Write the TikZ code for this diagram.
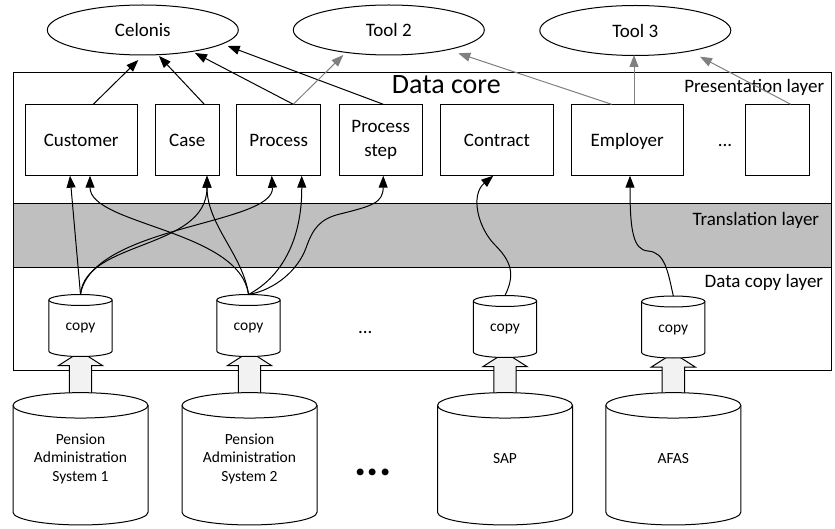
\documentclass[tikz,border=0pt]{standalone}
\usepackage{fontspec}
\setmainfont{Carlito}
\usetikzlibrary{shapes.geometric,arrows.meta,calc}
\definecolor{bandgray}{RGB}{191,191,191}
\definecolor{arrgray}{RGB}{128,128,128}
\definecolor{blockfill}{RGB}{242,242,242}
\pgfdeclarelayer{back}
\pgfdeclarelayer{mid}
\pgfsetlayers{back,mid,main}
\newcommand\fmain{\fontsize{19}{23.5}\selectfont}
\newcommand\fsmall{\fontsize{15.5}{18.8}\selectfont}
\newcommand\fbig{\fontsize{28}{32}\selectfont}
% cylinder outline drawn around a named node: #1 node, #2 x radius, #3 y radius
\newcommand\drawcyl[3]{%
  \draw[cylline] ($(#1.north west)+(0,#3)$) -- ($(#1.south west)+(0,-#3)$)
    arc[start angle=180,end angle=360,x radius=#2pt,y radius=#3pt]
    -- ($(#1.north east)+(0,#3)$)
    arc[start angle=0,end angle=180,x radius=#2pt,y radius=#3pt] -- cycle;
  \draw[cylline] ($(#1.north west)+(0,#3)$)
    arc[start angle=180,end angle=360,x radius=#2pt,y radius=#3pt];}
% thick block arrow from big cylinder #1 up to copy cylinder #2
\newcommand\blockarr[2]{%
  \draw[blockarrow] ($(#1.north)+(-11.2,8)$) -- ($(#1.north |- #2.south)+(-11.2,9.2)$)
    -- ($(#1.north |- #2.south)+(-22.2,9.2)$) -- ($(#1.north |- #2.south)+(0,-5)$)
    -- ($(#1.north |- #2.south)+(22.2,9.2)$) -- ($(#1.north |- #2.south)+(11.2,9.2)$)
    -- ($(#1.north)+(11.2,8)$) -- cycle;}
\tikzset{
  box/.style={draw, fill=white, line width=1pt, minimum height=71.4pt, inner sep=0pt,
    outer sep=0pt, font=\fmain, align=center},
  onel/.style={text height=16pt, text depth=2pt},
  tool/.style={ellipse, draw, line width=1pt, minimum width=191pt, minimum height=50pt,
    inner sep=0pt, outer sep=0pt, font=\fmain, text height=16pt, text depth=2pt},
  copycyl/.style={inner sep=0pt, outer sep=0pt, minimum width=63.3pt, minimum height=62pt,
    font=\fsmall, text height=11pt, text depth=1pt},
  bigcyl/.style={inner sep=0pt, outer sep=0pt, minimum width=135pt, minimum height=132.3pt,
    font=\fsmall, align=center},
  cylline/.style={draw, fill=white, line width=1pt},
  blockarrow/.style={draw, fill=blockfill, line width=1pt, line join=miter},
  layerlabel/.style={inner sep=0pt, font=\fmain, anchor=base east},
  blk/.style={-{Triangle[length=12pt,width=9pt]}, line width=1pt},
  gry/.style={-{Triangle[length=12pt,width=9pt]}, draw=arrgray, line width=1pt},
}
\begin{document}
\begin{tikzpicture}[x=1pt,y=-1pt]
\useasboundingbox (0,0) rectangle (835,529);

% ---------- nodes ----------
\node[tool] (celonis) at (142.8,30) {Celonis};
\node[tool] (tool2) at (388.8,30) {Tool 2};
\node[tool] (tool3) at (635.3,30.5) {Tool 3};

\node[box, onel, minimum width=112.3pt] (cust) at (81.2,140) {Customer};
\node[box, onel, minimum width=64pt] (case) at (187.3,140) {Case};
\node[box, onel, minimum width=84pt] (proc) at (278.7,140) {Process};
\node[box, minimum width=83.3pt] (pstep) at (380.7,140) {Process\\step};
\node[box, onel, minimum width=112.6pt] (contract) at (497,140) {Contract};
\node[box, onel, minimum width=112.3pt] (emp) at (627.2,140) {Employer};
\node[box, onel, minimum width=63.6pt] (empty) at (777.5,140) {};
\node[inner sep=0pt, font=\fmain, anchor=base] (dotsp) at (725,146.5) {...};

\node[inner sep=0pt, font=\fbig, anchor=base west] (dcore) at (391.7,93.3) {Data core};
\node[layerlabel] (lpres) at (824.3,92.5) {Presentation layer};
\node[layerlabel] (ltrans) at (819.3,225.5) {Translation layer};
\node[layerlabel] (lcopy) at (823.3,287.2) {Data copy layer};

\node[copycyl] (copy1) at (80.5,325.5) {copy};
\node[copycyl] (copy2) at (248.5,325.5) {copy};
\node[copycyl] (copy3) at (505,326.5) {copy};
\node[copycyl] (copy4) at (673.3,327) {copy};
\node[inner sep=0pt, font=\fmain, anchor=base] (dotsc) at (365.2,333.8) {...};

\node[bigcyl] (pas1) at (80.5,458.8) {Pension\\Administration\\System 1};
\node[bigcyl] (pas2) at (249.5,458.8) {Pension\\Administration\\System 2};
\node[bigcyl] (sap) at (505,458.8) {SAP};
\node[bigcyl] (afas) at (673.3,458.8) {AFAS};
\node[inner sep=0pt, font=\fontsize{46}{50}\selectfont\bfseries, anchor=base] (dotsb) at (373,475) {...};

% ---------- background: frame, band, block arrows ----------
\begin{pgfonlayer}{back}
  \draw[line width=1pt] (13.3,72.3) rectangle (831.3,370);
  \draw[line width=1pt, fill=bandgray] (13.3,203.3) rectangle (831.3,267.3);
  \blockarr{pas1}{copy1}
  \blockarr{pas2}{copy2}
  \blockarr{sap}{copy3}
  \blockarr{afas}{copy4}
\end{pgfonlayer}
\begin{pgfonlayer}{mid}
  \drawcyl{copy1}{31.65}{5.5}
  \drawcyl{copy2}{31.65}{5.5}
  \drawcyl{copy3}{31.65}{5.5}
  \drawcyl{copy4}{31.65}{5.5}
  \drawcyl{pas1}{67.5}{12.7}
  \drawcyl{pas2}{67.5}{12.7}
  \drawcyl{sap}{67.5}{12.7}
  \drawcyl{afas}{67.5}{12.7}
\end{pgfonlayer}

% ---------- presentation layer to tools ----------
\draw[blk] ($(cust.north)+(12.1,0)$) -- ($(celonis.center)+(-4.5,30)$);
\draw[blk] ($(case.north)+(17,0)$) -- ($(celonis.center)+(16.2,26)$);
\draw[blk] ($(proc.north)+(14.6,0)$) -- ($(celonis.center)+(52.2,23)$);
\draw[blk] ($(pstep.north)+(2.6,0)$) -- ($(celonis.center)+(84.9,16)$);
\draw[gry] ($(proc.north)+(14.6,0)$) -- ($(tool2.center)+(-45.5,25)$);
\draw[gry] ($(emp.north)+(-15.5,0)$) -- ($(tool2.center)+(69.5,23.3)$);
\draw[gry] ($(emp.north)+(6.8,0)$) -- ($(tool3.center)+(-1.3,24.5)$);
\draw[gry] ($(empty.north)+(13.2,0)$) -- ($(tool3.center)+(64.7,26.2)$);

% ---------- copies to presentation ----------
\draw[blk] (copy1.north) -- ($(cust.south)+(-11.2,0)$);
\draw[blk] (copy1.north) .. controls (85,240) and (207,250) .. ($(case.south)+(19.7,0)$);
\draw[blk] (copy1.north) .. controls (92,225) and (275,225) .. ($(proc.south)+(-7,0)$);
\draw[blk] (copy2.north) .. controls (240,230) and (90,225) .. ($(cust.south)+(8.8,0)$);
\draw[blk] (copy2.north) .. controls (243,255) and (207,225) .. ($(case.south)+(19.7,0)$);
\draw[blk] (copy2.north) .. controls (285,275) and (302,235) .. ($(proc.south)+(23,0)$);
\draw[blk] (copy2.north) .. controls (275,290) and (298,270) .. (306,248)
  .. controls (313,228) and (320,219) .. (340,214)
  .. controls (372,206) and (383,203) .. ($(pstep.south)+(2.6,0)$);
\draw[blk] (copy3.north) .. controls (515,275) and (512,262) .. (495,245)
  .. controls (478,228) and (470,195) .. ($(contract.south)+(-3.7,0)$);
\draw[blk] (copy4.north) .. controls (668,272) and (665,252) .. (648,251)
  .. controls (633,250) and (630,230) .. ($(emp.south)+(2.8,0)$);
\end{tikzpicture}
\end{document}
